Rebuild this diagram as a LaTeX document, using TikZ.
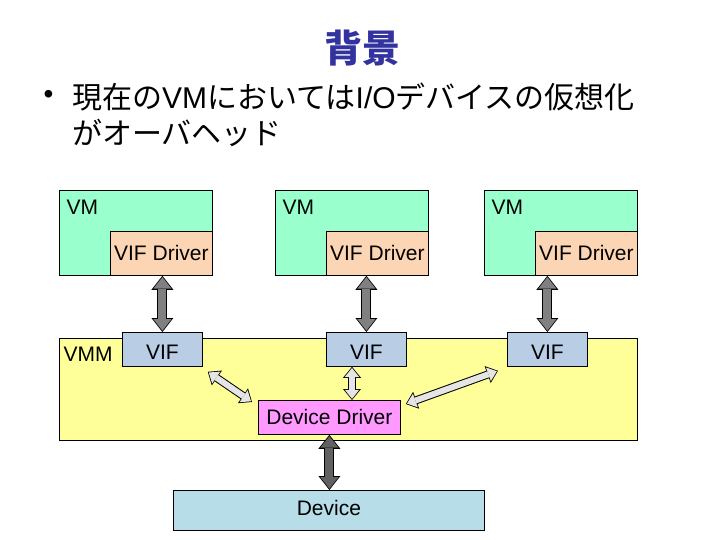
\documentclass[tikz,border=0pt]{standalone}
\usepackage{fontspec}
\setmainfont{Liberation Sans}
\newfontfamily\cjk{Noto Sans CJK JP}
\usetikzlibrary{arrows.meta}
\definecolor{vmgreen}{HTML}{99FFCC}
\definecolor{drvpeach}{HTML}{FCD5B4}
\definecolor{vmmyellow}{HTML}{FFFF99}
\definecolor{vifblue}{HTML}{B9CDE5}
\definecolor{ddpink}{HTML}{FF99FF}
\definecolor{devblue}{HTML}{B7DDE8}
\definecolor{titleblue}{HTML}{3333A0}
\tikzset{
  box/.style={draw=black, line width=0.8pt, inner sep=0pt, anchor=north west},
  lbl/.style={font=\fontsize{21}{23}\selectfont},
  fat/.style={line width=10pt, draw=black,
    {Triangle[length=14pt,width=22pt,line width=0pt]}-{Triangle[length=14pt,width=22pt,line width=0pt]},
    postaction={draw=#1, line width=8pt,
      {Triangle[length=11.5pt,width=18pt,line width=0pt]}-{Triangle[length=11.5pt,width=18pt,line width=0pt]},
      shorten >=1.3pt, shorten <=1.3pt}},
  slim/.style={line width=8pt, draw=black,
    {Triangle[length=11pt,width=18pt,line width=0pt]}-{Triangle[length=11pt,width=18pt,line width=0pt]},
    postaction={draw=#1, line width=6pt,
      {Triangle[length=9pt,width=14.5pt,line width=0pt]}-{Triangle[length=9pt,width=14.5pt,line width=0pt]},
      shorten >=1.2pt, shorten <=1.2pt}},
}
\begin{document}
\begin{tikzpicture}[x=1pt,y=-1pt]
\useasboundingbox[fill=white] (0,0) rectangle (720,540);
% title and bullet
\node[text=titleblue, font=\cjk\bfseries\fontsize{38}{42}\selectfont] (title) at (362,48) {背景};
\node[anchor=west, font=\fontsize{28}{30}\selectfont] (bul) at (40,97) {•};
\node[anchor=west, inner sep=0pt, font=\cjk\fontsize{30}{32}\selectfont] (line1) at (72,97) {現在の{\rmfamily VM}においては{\rmfamily I/O}デバイスの仮想化};
\node[anchor=west, inner sep=0pt, font=\cjk\fontsize{30}{32}\selectfont] (line2) at (72,133) {がオーバヘッド};
% VMM
\node[box, fill=vmmyellow, minimum width=578pt, minimum height=102pt] (vmm) at (59,338) {};
\node[lbl, anchor=west] (vmmlbl) at (60,354) {VMM};
% VMs
\foreach \i/\x in {1/59,2/275,3/484}{
  \node[box, fill=vmgreen, minimum width=153pt, minimum height=85pt] (vm\i) at (\x,190) {};
  \node[lbl, anchor=west] (vmlbl\i) at (\x+4,207) {VM};
  \node[box, fill=drvpeach, minimum width=102pt, minimum height=44pt] (drv\i) at (\x+51,231) {};
  \node[lbl] (drvlbl\i) at (drv\i.center) {VIF Driver};
}
\node[box, fill=vifblue, minimum width=80pt, minimum height=34pt] (vif1) at (122,332) {};
\node[box, fill=vifblue, minimum width=80pt, minimum height=34pt] (vif2) at (326,332) {};
\node[box, fill=vifblue, minimum width=80pt, minimum height=34pt] (vif3) at (507,332) {};
\foreach \i in {1,2,3}{\node[lbl] (viflbl\i) at ([yshift=-3pt]vif\i.center) {VIF};}
% device driver and device
\node[box, fill=ddpink, minimum width=142pt, minimum height=34pt] (dd) at (258,400) {};
\node[lbl] (ddlbl) at (dd.center) {Device Driver};
\node[box, fill=devblue, minimum width=311pt, minimum height=40pt] (dev) at (173,490) {};
\node[lbl] (devlbl) at ([yshift=2pt]dev.center) {Device};
% arrows
\draw[fat=gray] (drv1.south -| vif1.north) -- (vif1.north);
\draw[fat=gray] (drv2.south -| vif2.north) -- (vif2.north);
\draw[fat=gray] (vif3.north |- drv3.south) -- (vif3.north);
\draw[fat={black!62}] (dd.south) -- (dd.south |- dev.north);
\coordinate (mid) at (352,383);
\coordinate (a1) at ([shift={(5,5)}]vif1.south east);
\coordinate (b1) at ([shift={(-6,2)}]dd.north west);
\coordinate (a3) at ([shift={(-9,4)}]vif3.south west);
\coordinate (b3) at ([shift={(5,4)}]dd.north east);
\draw[slim={black!10}] (a1) -- (b1);
\draw[slim={black!10}] (mid |- vif2.south) -- (mid |- dd.north);
\draw[slim={black!10}] (a3) -- (b3);
\end{tikzpicture}
\end{document}
